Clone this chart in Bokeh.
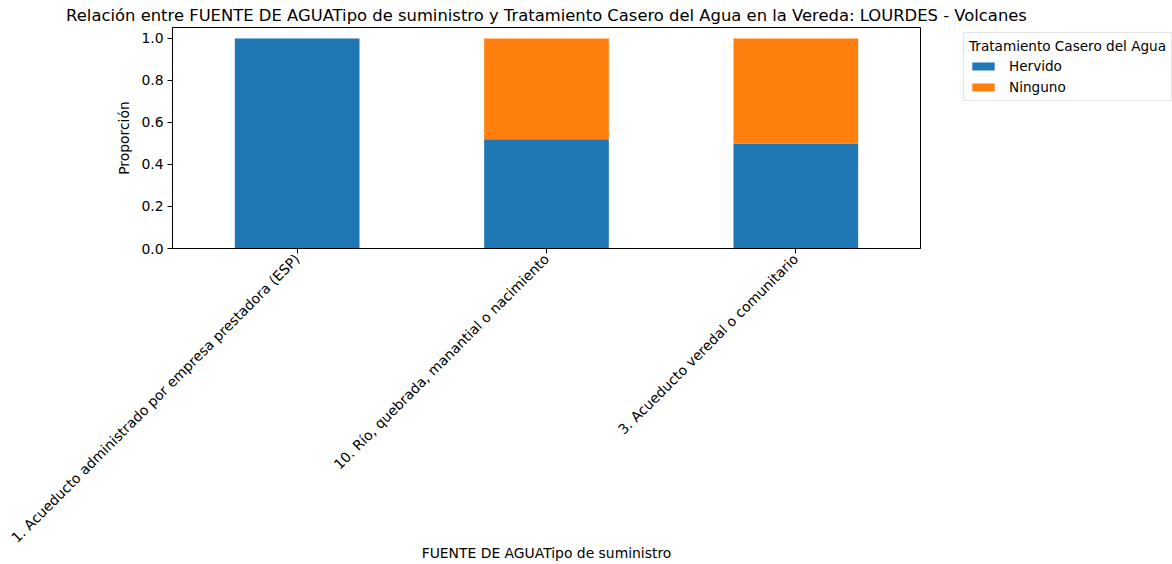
import math
from bokeh.plotting import figure
from bokeh.models import Legend, LegendItem, FixedTicker, NumeralTickFormatter, ColumnDataSource
from bokeh.embed import file_html
from bokeh.resources import INLINE

categories = ["1. Acueducto administrado por empresa prestadora (ESP)",
              "10. Río, quebrada, manantial o nacimiento",
              "3. Acueducto veredal o comunitario"]
hervido = [1.0, 0.52, 0.50]
ninguno = [0.0, 0.48, 0.50]
series = ["Hervido", "Ninguno"]
colors = ["#1f77b4", "#ff7f0e"]

FONT = "DejaVu Sans"

src = ColumnDataSource(dict(cat=categories, Hervido=hervido, Ninguno=ninguno))

p = figure(x_range=categories, y_range=(0, 1.052), output_backend="svg", toolbar_location=None,
           frame_width=748, frame_height=221, min_border_left=172, min_border_top=0,
           min_border_right=244, min_border_bottom=0,
           title="Relación entre FUENTE DE AGUATipo de suministro y Tratamiento Casero del Agua en la Vereda: LOURDES - Volcanes")
p.x_range.range_padding = 0

rs = p.vbar_stack(series, x="cat", width=0.5, color=colors, source=src, line_color=None)

p.title.align = "center"
p.title.text_font = FONT
p.title.text_font_size = "16.4px"
p.title.text_font_style = "normal"
p.title.text_color = "black"
p.title.standoff = 6
p.title.offset = 0

p.xgrid.grid_line_color = None
p.ygrid.grid_line_color = None
p.outline_line_color = "black"
p.outline_line_alpha = 1

for ax in (p.xaxis[0], p.yaxis[0]):
    ax.axis_line_color = "black"
    ax.major_tick_line_color = "black"
    ax.major_tick_out = 5
    ax.major_tick_in = 0
    ax.minor_tick_line_color = None
    ax.major_label_text_font = FONT
    ax.major_label_text_font_size = "13.9px"
    ax.major_label_text_color = "black"
    ax.axis_label_text_font = FONT
    ax.axis_label_text_font_size = "13.9px"
    ax.axis_label_text_font_style = "normal"
    ax.axis_label_text_color = "black"

p.yaxis.ticker = FixedTicker(ticks=[0, 0.2, 0.4, 0.6, 0.8, 1.0])
p.yaxis.formatter = NumeralTickFormatter(format="0.0")
p.yaxis.axis_label = "Proporción"
p.yaxis.major_label_standoff = 4
p.yaxis.axis_label_standoff = 6

p.xaxis.axis_label = "FUENTE DE AGUATipo de suministro"
p.xaxis.major_label_orientation = math.pi / 4
p.xaxis.major_label_standoff = 3
p.xaxis.axis_label_standoff = -9

legend = Legend(items=[LegendItem(label=s, renderers=[r]) for s, r in zip(series, rs)],
                title="Tratamiento Casero del Agua", location=(43, 147))
legend.title_text_font = FONT
legend.title_text_font_size = "13.6px"
legend.title_text_font_style = "normal"
legend.title_text_color = "black"
legend.title_standoff = 4
legend.label_text_font = FONT
legend.label_text_font_size = "13.6px"
legend.label_text_color = "black"
legend.glyph_width = 28
legend.glyph_height = 10
legend.border_line_color = "#cccccc"
legend.padding = 5
legend.spacing = 5
legend.margin = 0
legend.label_standoff = 12
p.add_layout(legend, "right")

open("out.html", "w").write(file_html(p, INLINE))
